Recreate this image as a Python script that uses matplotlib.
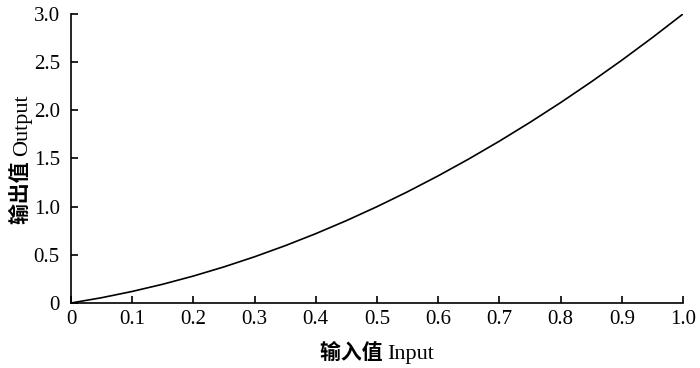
import matplotlib
matplotlib.use("Agg")
import matplotlib.pyplot as plt
import numpy as np

# values
x_vals = [0.0, 0.05, 0.1, 0.15, 0.2, 0.25, 0.3, 0.35, 0.4, 0.45, 0.5,
          0.55, 0.6, 0.65, 0.7, 0.75, 0.8, 0.85, 0.9, 0.95, 1.0]
y_vals = [0.0, 0.055, 0.12, 0.195, 0.28, 0.375, 0.48, 0.595, 0.72, 0.855, 1.0,
          1.155, 1.32, 1.495, 1.68, 1.875, 2.08, 2.295, 2.52, 2.755, 3.0]

x_ticks = [0, 0.1, 0.2, 0.3, 0.4, 0.5, 0.6, 0.7, 0.8, 0.9, 1.0]
x_ticklabels = ["0", "0.1", "0.2", "0.3", "0.4", "0.5", "0.6", "0.7", "0.8", "0.9", "1.0"]
y_ticks = [0, 0.5, 1.0, 1.5, 2.0, 2.5, 3.0]
y_ticklabels = ["0", "0.5", "1.0", "1.5", "2.0", "2.5", "3.0"]

x_label = ("输入值 ", "Input")
y_label = ("输出值 ", "Output")

plt.rcParams["font.family"] = ["Liberation Serif", "Noto Sans CJK SC"]
cjk = dict(family="Noto Sans CJK SC", weight="bold", fontsize=15)
lat = dict(family="Liberation Serif", fontsize=16)

fig = plt.figure(figsize=(7, 3.68), dpi=100)
ax = fig.add_axes([0.1014, 0.1766, 0.8743, 0.7854])

ax.plot(x_vals, y_vals, color="black", lw=1.2)

ax.set_xlim(0, 1.0)
ax.set_ylim(0, 3.0)
ax.set_xticks(x_ticks)
ax.set_xticklabels(x_ticklabels)
ax.set_yticks(y_ticks)
ax.set_yticklabels(y_ticklabels)
ax.tick_params(direction="in", length=5, width=1.2, labelsize=15)
ax.tick_params(axis="y", pad=8)
ax.tick_params(axis="x", pad=5)

for side in ["top", "right"]:
    ax.spines[side].set_visible(False)
for side in ["left", "bottom"]:
    ax.spines[side].set_linewidth(1.2)


def mixed_label(parts, cx, cy, vertical=False):
    # two-font label on a shared baseline; (cx, cy) in pixels, baseline coordinate across the text
    rot = 90 if vertical else 0
    kw = dict(rotation=rot, rotation_mode="anchor", ha="left", va="baseline")
    t1 = fig.text(0, 0, parts[0], **kw, **cjk)
    t2 = fig.text(0, 0, parts[1], **kw, **lat)
    r = fig.canvas.get_renderer()
    e1 = t1.get_window_extent(r)
    e2 = t2.get_window_extent(r)
    W, H = fig.bbox.width, fig.bbox.height
    if vertical:
        total = e1.height + e2.height
        y0 = cy - total / 2
        t1.set_position((cx / W, y0 / H))
        t2.set_position((cx / W, (y0 + e1.height) / H))
    else:
        total = e1.width + e2.width
        x0 = cx - total / 2
        t1.set_position((x0 / W, cy / H))
        t2.set_position(((x0 + e1.width) / W, cy / H))


mixed_label(x_label, 377, 368 - 359)
mixed_label(y_label, 27, 368 - 159, vertical=True)

fig.savefig("out.png", dpi=100)
